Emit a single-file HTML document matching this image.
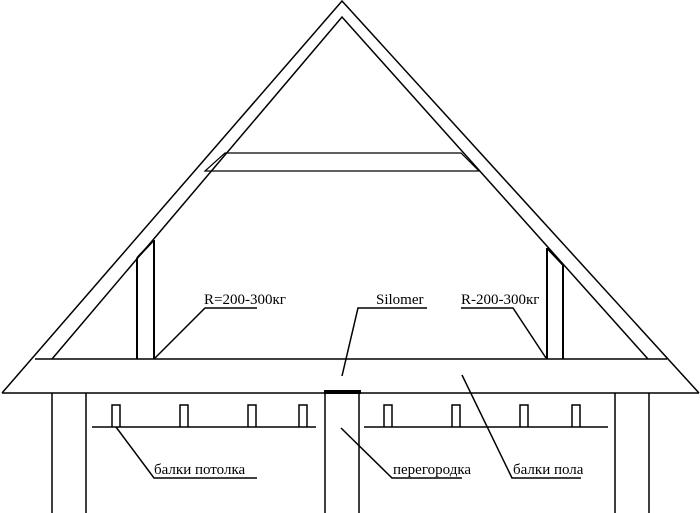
<!DOCTYPE html>
<html><head><meta charset="utf-8"><style>
html,body{margin:0;padding:0;background:#fff;}
svg{display:block;}
text{font-family:"Liberation Serif",serif;font-size:15px;fill:#000;}
</style></head><body>
<svg width="700" height="513" viewBox="0 0 700 513" xmlns="http://www.w3.org/2000/svg">
<g stroke="#000" stroke-width="1.5" fill="none">
<polyline points="2,393 342,1 699,393"/>
<polyline points="52,359 342,17 648,359"/>
<line x1="35" y1="359" x2="667" y2="359"/>
<line x1="2" y1="393" x2="699" y2="393"/>
<polygon points="225,153 461,153 479,171 205,171" stroke-width="1.2"/>
<line x1="137" y1="258" x2="137" y2="359" stroke-width="2"/>
<line x1="154" y1="240" x2="154" y2="359" stroke-width="2"/>
<line x1="137" y1="258" x2="154" y2="240" stroke-width="2"/>
<line x1="547" y1="248" x2="547" y2="359" stroke-width="2"/>
<line x1="563" y1="265" x2="563" y2="359" stroke-width="2"/>
<line x1="547" y1="248" x2="563" y2="265" stroke-width="2"/>
<polyline points="52,513 52,393"/><polyline points="86,513 86,393"/>
<polyline points="615,513 615,393"/><polyline points="649,513 649,393"/>
<polyline points="325,513 325,393"/><polyline points="359,513 359,393"/>
<line x1="324" y1="392" x2="361" y2="392" stroke-width="4"/>
<line x1="92" y1="427" x2="316" y2="427"/>
<line x1="364" y1="427" x2="608" y2="427"/>
<polyline points="112,427 112,405 120,405 120,427"/>
<polyline points="180,427 180,405 188,405 188,427"/>
<polyline points="248,427 248,405 256,405 256,427"/>
<polyline points="299,427 299,405 307,405 307,427"/>
<polyline points="384,427 384,405 392,405 392,427"/>
<polyline points="452,427 452,405 460,405 460,427"/>
<polyline points="520,427 520,405 528,405 528,427"/>
<polyline points="572,427 572,405 580,405 580,427"/>
<polyline points="257,308 205,308 154,359"/>
<polyline points="427,308 358,308 342,376"/>
<polyline points="461,308 513,308 546,358"/>
<polyline points="116,427 154,478 257,478"/>
<polyline points="341,428 392,478 462,478"/>
<polyline points="462,375 512,478 581,478"/>
</g>
<text x="204" y="304">R=200-300кг</text>
<text x="376" y="304">Silomer</text>
<text x="461" y="304">R-200-300кг</text>
<text x="154" y="474">балки потолка</text>
<text x="393" y="474">перегородка</text>
<text x="513" y="474">балки пола</text>
</svg>
</body></html>
